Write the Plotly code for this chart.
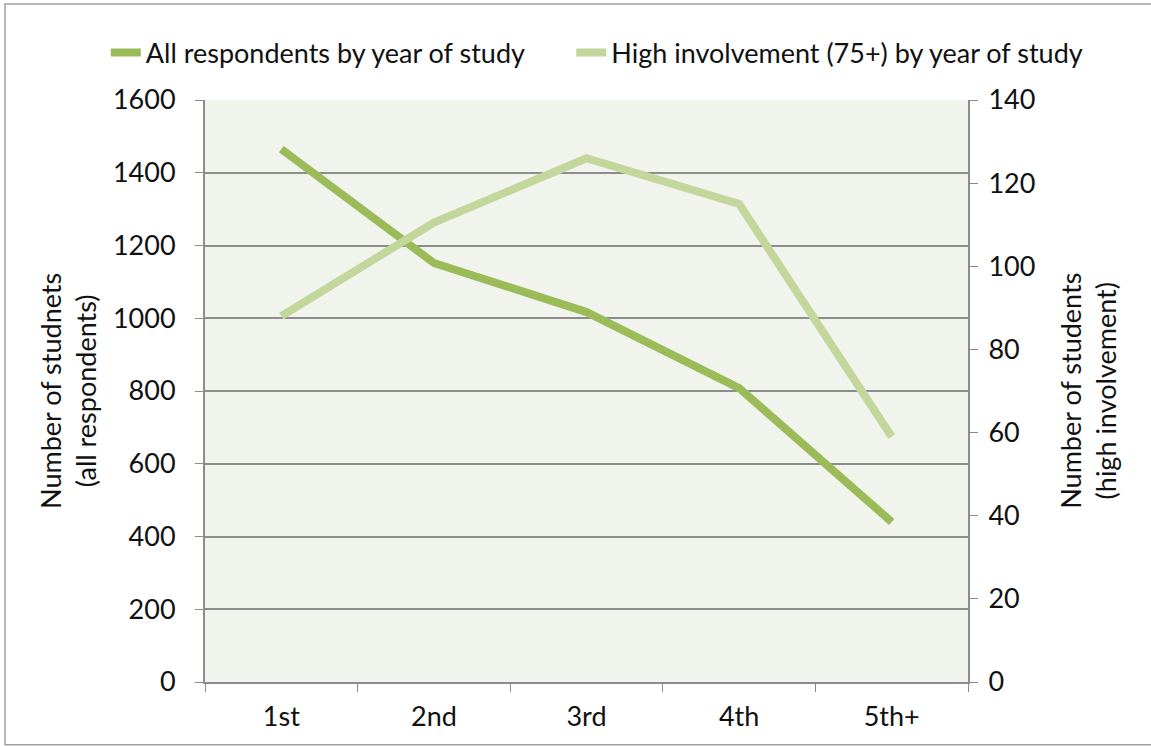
import plotly.graph_objects as go

years = ["1st", "2nd", "3rd", "4th", "5th+"]
all_respondents = [1465, 1152, 1017, 808, 440]
high_involvement = [88, 110.5, 126, 115, 59]

FONT = "Lato"
dark = "#9bbb59"
light = "#c3d69b"
grid = "#8c8c8c"
FS = 27

fig = go.Figure()
fig.add_trace(go.Scatter(x=years, y=all_respondents, mode="lines",
                         name="All respondents by year of study",
                         line=dict(color=dark, width=8), yaxis="y", legend="legend"))
fig.add_trace(go.Scatter(x=years, y=high_involvement, mode="lines",
                         name="High involvement (75+) by year of study",
                         line=dict(color=light, width=8), yaxis="y2", legend="legend2"))

leg_common = dict(orientation="h", xanchor="left", y=1.081, yanchor="middle",
                  font=dict(size=FS), bgcolor="rgba(0,0,0,0)", itemwidth=30)

fig.update_layout(
    width=1151, height=746,
    margin=dict(l=205, r=183, t=100, b=64, autoexpand=False),
    paper_bgcolor="white",
    plot_bgcolor="#f1f4ed",
    font=dict(family=FONT, size=FS, color="#111111"),
    showlegend=True,
    legend=dict(x=-0.13, **leg_common),
    legend2=dict(x=0.48, **leg_common),
    xaxis=dict(type="category", tickson="boundaries", ticks="outside", ticklen=8,
               tickcolor=grid, showgrid=False, showline=True, linecolor=grid,
               linewidth=2, tickfont=dict(size=FS), range=[-0.5, 4.5],
               mirror=False, zeroline=False, ticklabelstandoff=10),
    yaxis=dict(range=[0, 1600], dtick=200, ticks="outside", ticklen=8,
               tickcolor=grid, showgrid=True, gridcolor=grid, gridwidth=2,
               showline=True, linecolor=grid, linewidth=2, zeroline=False,
               tickfont=dict(size=FS), ticklabelstandoff=14),
    yaxis2=dict(range=[0, 140], dtick=20, overlaying="y", side="right",
                ticks="outside", ticklen=8, tickcolor=grid, showgrid=False,
                showline=True, linecolor=grid, linewidth=2, zeroline=False,
                tickfont=dict(size=FS), ticklabelstandoff=5),
)

fig.add_annotation(text="Number of studnets<br>(all respondents)", xref="paper", yref="paper",
                   x=-0.1796, y=0.5, textangle=-90, showarrow=False,
                   font=dict(size=FS), xanchor="center", yanchor="middle")
fig.add_annotation(text="Number of students<br>(high involvement)", xref="paper", yref="paper",
                   x=1.157, y=0.5, textangle=-90, showarrow=False,
                   font=dict(size=FS), xanchor="center", yanchor="middle")

fig.add_shape(type="rect", xref="paper", yref="paper", x0=-0.2621, x1=1.245, y0=-0.108, y1=1.165,
              line=dict(color="#a0a0a0", width=1.5), layer="below")

fig.write_html("out.html", config={"displayModeBar": False},
               post_script="document.body.style.margin='0';")
